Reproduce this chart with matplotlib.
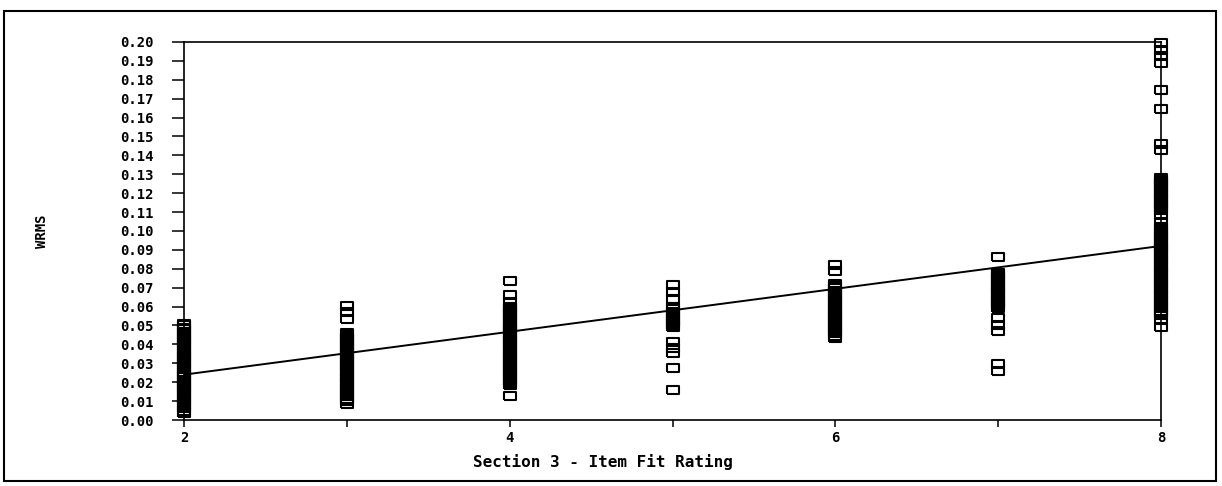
import numpy as np
import matplotlib.pyplot as plt
from matplotlib.patches import Rectangle

# WRMS per item, grouped by item fit rating
ratings = [2, 3, 4, 5, 6, 7, 8]
wrms_r2 = [0.0035, 0.005, 0.0062, 0.0075, 0.0088, 0.010, 0.0112, 0.0121, 0.0135, 0.0146,
           0.0158, 0.0167, 0.018, 0.0191, 0.0203, 0.0214, 0.0225, 0.0233, 0.0246, 0.0255,
           0.0268, 0.0277, 0.0289, 0.030, 0.0311, 0.0322, 0.0334, 0.0343, 0.0356, 0.0365,
           0.0378, 0.0389, 0.040, 0.0412, 0.0421, 0.0433, 0.0445, 0.0456, 0.0467, 0.0479,
           0.0488, 0.050, 0.051]
wrms_r3 = [0.0085, 0.0098, 0.0112, 0.0125, 0.0134, 0.0148, 0.016, 0.0171, 0.0185, 0.0196,
           0.0208, 0.0217, 0.023, 0.0244, 0.0252, 0.0266, 0.0278, 0.0287, 0.030, 0.0311,
           0.0323, 0.0335, 0.0346, 0.0358, 0.0369, 0.038, 0.0392, 0.0403, 0.0415, 0.0427,
           0.0438, 0.0449, 0.046, 0.0535, 0.057, 0.0605]
wrms_r4 = [0.0127, 0.0185, 0.0196, 0.0207, 0.0219, 0.0231, 0.0242, 0.0254, 0.0265, 0.0277,
           0.0286, 0.0298, 0.031, 0.0321, 0.0333, 0.0345, 0.0356, 0.0366, 0.0378, 0.039,
           0.0401, 0.0413, 0.0424, 0.0435, 0.0447, 0.0458, 0.0469, 0.048, 0.0492, 0.0503,
           0.0515, 0.0526, 0.0538, 0.0549, 0.056, 0.0572, 0.0584, 0.0595, 0.060, 0.0625,
           0.0662, 0.0735]
wrms_r5 = [0.0159, 0.0273, 0.0357, 0.0383, 0.0412, 0.049, 0.050, 0.0512, 0.0524, 0.0536,
           0.0549, 0.0561, 0.0572, 0.0585, 0.060, 0.0638, 0.0676, 0.0714]
wrms_r6 = [0.0436, 0.0447, 0.0459, 0.047, 0.0482, 0.0493, 0.0504, 0.0516, 0.0527, 0.0538,
           0.0549, 0.056, 0.0572, 0.0583, 0.0594, 0.0606, 0.0617, 0.0628, 0.064, 0.0651,
           0.0662, 0.0674, 0.0685, 0.0696, 0.0707, 0.0718, 0.0789, 0.082]
wrms_r7 = [0.0258, 0.0295, 0.047, 0.0505, 0.0542, 0.059, 0.0602, 0.0613, 0.0625, 0.0636,
           0.0648, 0.0659, 0.067, 0.0682, 0.0693, 0.0705, 0.0716, 0.0728, 0.0739, 0.075,
           0.0762, 0.0773, 0.078, 0.0862]
wrms_r8 = [0.049, 0.053, 0.0556, 0.0568, 0.0579, 0.0591, 0.0603, 0.0614, 0.0626, 0.0637,
           0.0649, 0.0661, 0.0672, 0.0684, 0.0695, 0.0707, 0.0719, 0.073, 0.0742, 0.0753,
           0.0765, 0.0777, 0.0788, 0.080, 0.0811, 0.0823, 0.0835, 0.0846, 0.0858, 0.0869,
           0.0881, 0.0893, 0.0904, 0.0916, 0.0927, 0.0939, 0.0951, 0.0962, 0.0974, 0.0985,
           0.0997, 0.1008, 0.102, 0.105, 0.1085, 0.111, 0.1122, 0.1133, 0.1145, 0.1156,
           0.1168, 0.118, 0.1191, 0.1203, 0.1214, 0.1226, 0.1238, 0.1249, 0.1261, 0.1272,
           0.128, 0.1428, 0.146, 0.1645, 0.1745, 0.189, 0.1925, 0.1955, 0.1995]
groups = [wrms_r2, wrms_r3, wrms_r4, wrms_r5, wrms_r6, wrms_r7, wrms_r8]

# fitted regression line
fit_intercept = 0.0013
fit_slope = 0.01135

y_ticks = [i / 100 for i in range(21)]
y_tick_labels = ['0.%02d' % i for i in range(21)]
x_tick_labels = ['2', '', '4', '', '6', '', '8']

mono = 'DejaVu Sans Mono'

fig = plt.figure(figsize=(12.22, 4.86), dpi=100)
ax = fig.add_axes([0.1506, 0.1358, 0.7995, 0.7778])

# wide open box marker
box = [(-1, -0.6), (1, -0.6), (1, 0.6), (-1, 0.6), (-1, -0.6)]
for r, vals in zip(ratings, groups):
    ax.plot([r] * len(vals), vals, linestyle='none', marker=box, markersize=9,
            markerfacecolor='none', markeredgecolor='black', markeredgewidth=1.5,
            clip_on=False, zorder=3)

xs = np.array([ratings[0], ratings[-1]])
ax.plot(xs, fit_intercept + fit_slope * xs, color='black', lw=1.4, zorder=2)

ax.set_xlim(2, 8)
ax.set_ylim(0, 0.20)
ax.set_xticks(ratings)
ax.set_xticklabels(x_tick_labels, fontfamily=mono, fontsize=10, fontweight='bold')
ax.set_yticks(y_ticks)
ax.set_yticklabels(y_tick_labels, fontfamily=mono, fontsize=10, fontweight='bold')
ax.tick_params(axis='y', direction='out', length=9, width=1.1, pad=13)
ax.tick_params(axis='x', direction='out', length=5, width=1.1, pad=3)
for s in ax.spines.values():
    s.set_linewidth(1.2)

fig.text(0.034, 0.525, 'WRMS', rotation=90, ha='center', va='center',
         fontfamily=mono, fontsize=10, fontweight='bold')
fig.text(0.493, 0.049, 'Section 3 - Item Fit Rating', ha='center', va='center',
         fontfamily=mono, fontsize=11.5, fontweight='bold')

# outer frame round the whole figure
fig.patches.append(Rectangle((0.003, 0.01), 0.992, 0.968, transform=fig.transFigure,
                             fill=False, edgecolor='black', linewidth=1.5))

fig.savefig('out.png', dpi=100)
